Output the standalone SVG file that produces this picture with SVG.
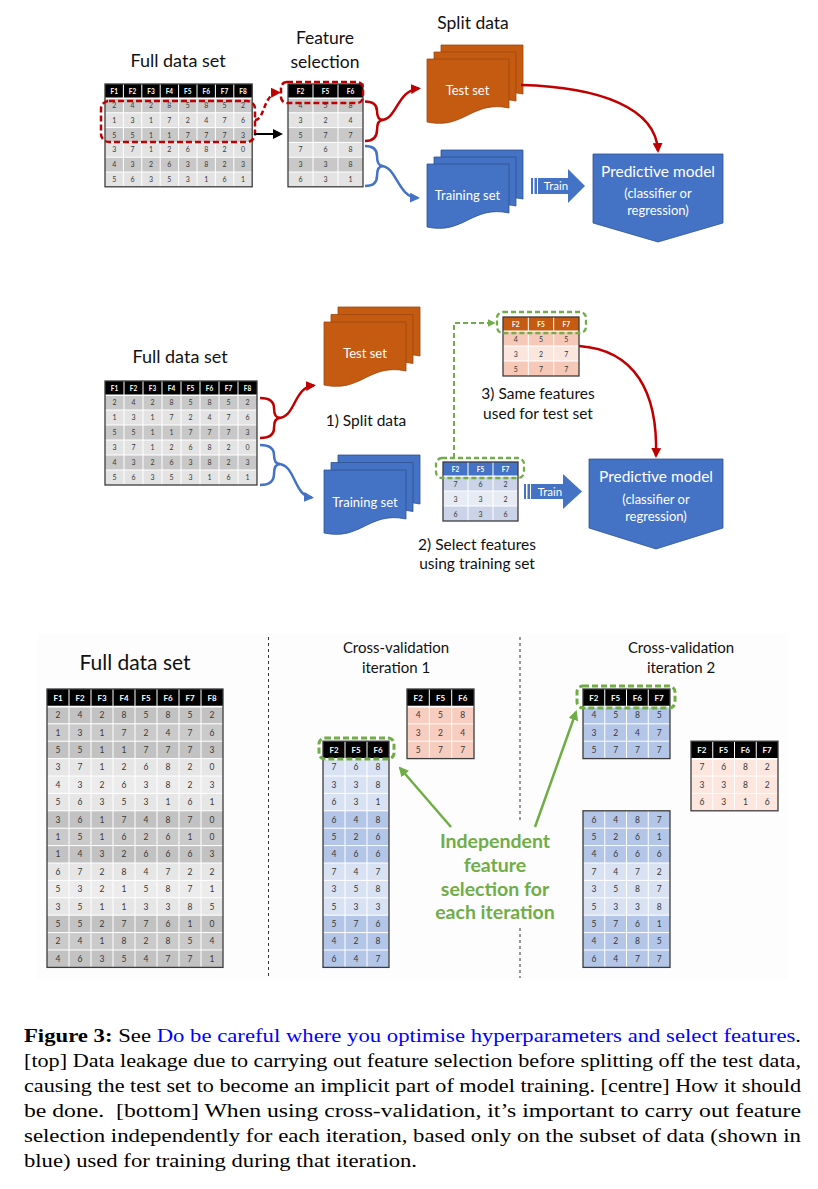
<svg xmlns="http://www.w3.org/2000/svg" width="818" height="1189" viewBox="0 0 818 1189">
<style>
.lbl{font-family:Lato,"Open Sans",sans-serif;fill:#111;text-anchor:middle}
.wt{font-family:Lato,"Open Sans",sans-serif;fill:#fff;text-anchor:middle}
.h7{font-family:Lato,"Open Sans",sans-serif;font-weight:700;font-size:6.5px;fill:#fff;text-anchor:middle}
.n7{font-family:Lato,"Open Sans",sans-serif;font-size:7px;fill:#383838;text-anchor:middle}
.h8{font-family:Lato,"Open Sans",sans-serif;font-weight:700;font-size:8px;fill:#fff;text-anchor:middle}
.n8{font-family:Lato,"Open Sans",sans-serif;font-size:8.5px;fill:#383838;text-anchor:middle}
.gl{stroke:#fff;stroke-width:1;fill:none}
.bd{fill:none;stroke:#3c3c3c;stroke-width:1.3}
.org{fill:#C55A11;stroke:#9E4610;stroke-width:0.8}
.blu{fill:#4472C4;stroke:#2F528F;stroke-width:0.8}
.cap{font-family:"Liberation Serif",serif;font-size:19.5px;fill:#000}
.rd{fill:none;stroke:#C00000;stroke-width:2.5}
.bl{fill:none;stroke:#4472C4;stroke-width:2.5}
.gr{fill:none;stroke:#70AD47;stroke-width:2.5}
.gt{font-family:Lato,"Open Sans",sans-serif;font-weight:700;font-size:19.5px;fill:#70AD47;text-anchor:middle}
</style>
<defs>
<path id="doc" d="M0,0H82V49C45,41 37,71 0,63Z"/>
<marker id="aR" viewBox="0 0 10 10" refX="8" refY="5" markerWidth="4" markerHeight="4" orient="auto"><path d="M0,0L10,5L0,10Z" fill="#C00000"/></marker>
<marker id="aB" viewBox="0 0 10 10" refX="8" refY="5" markerWidth="4" markerHeight="4" orient="auto"><path d="M0,0L10,5L0,10Z" fill="#4472C4"/></marker>
<marker id="aG" viewBox="0 0 10 10" refX="8" refY="5" markerWidth="4" markerHeight="4" orient="auto"><path d="M0,0L10,5L0,10Z" fill="#70AD47"/></marker>
<marker id="aK" viewBox="0 0 10 10" refX="8" refY="5" markerWidth="5" markerHeight="5" orient="auto"><path d="M0,0L10,5L0,10Z" fill="#000"/></marker>
</defs>
<rect width="818" height="1189" fill="#fff"/>

<!-- ================= TOP PANEL ================= -->
<g id="top-labels">
<text class="lbl" x="178" y="67" font-size="18">Full data set</text>
<text class="lbl" x="325" y="44" font-size="17.5">Feature</text>
<text class="lbl" x="325" y="67.5" font-size="17.5">selection</text>
<text class="lbl" x="473" y="29" font-size="17.5">Split data</text>
</g>

<g id="top-full-table">
<rect x="105" y="84" width="147.2" height="14" fill="#000"/>
<rect x="105" y="98" width="147.2" height="14.8" fill="#c8c8c8"/>
<rect x="105" y="112.8" width="147.2" height="14.8" fill="#e3e3e3"/>
<rect x="105" y="127.6" width="147.2" height="14.8" fill="#c8c8c8"/>
<rect x="105" y="142.4" width="147.2" height="14.8" fill="#e3e3e3"/>
<rect x="105" y="157.2" width="147.2" height="14.8" fill="#c8c8c8"/>
<rect x="105" y="172" width="147.2" height="14.8" fill="#e3e3e3"/>
<path class="gl" d="M123.4,84V186.8M141.8,84V186.8M160.2,84V186.8M178.6,84V186.8M197,84V186.8M215.4,84V186.8M233.8,84V186.8M105,112.8H252.2M105,127.6H252.2M105,142.4H252.2M105,157.2H252.2M105,172H252.2"/>
<path d="M105,98.2H252.2" stroke="#fff" stroke-width="1.5"/>
<rect class="bd" x="105" y="84" width="147.2" height="102.8"/>
<text class="h7" x="114.2" y="93.5">F1</text><text class="h7" x="132.6" y="93.5">F2</text><text class="h7" x="151" y="93.5">F3</text><text class="h7" x="169.4" y="93.5">F4</text><text class="h7" x="187.8" y="93.5">F5</text><text class="h7" x="206.2" y="93.5">F6</text><text class="h7" x="224.6" y="93.5">F7</text><text class="h7" x="243" y="93.5">F8</text>
<text class="n7" x="114.2" y="108">2</text><text class="n7" x="132.6" y="108">4</text><text class="n7" x="151" y="108">2</text><text class="n7" x="169.4" y="108">8</text><text class="n7" x="187.8" y="108">5</text><text class="n7" x="206.2" y="108">8</text><text class="n7" x="224.6" y="108">5</text><text class="n7" x="243" y="108">2</text>
<text class="n7" x="114.2" y="122.8">1</text><text class="n7" x="132.6" y="122.8">3</text><text class="n7" x="151" y="122.8">1</text><text class="n7" x="169.4" y="122.8">7</text><text class="n7" x="187.8" y="122.8">2</text><text class="n7" x="206.2" y="122.8">4</text><text class="n7" x="224.6" y="122.8">7</text><text class="n7" x="243" y="122.8">6</text>
<text class="n7" x="114.2" y="137.6">5</text><text class="n7" x="132.6" y="137.6">5</text><text class="n7" x="151" y="137.6">1</text><text class="n7" x="169.4" y="137.6">1</text><text class="n7" x="187.8" y="137.6">7</text><text class="n7" x="206.2" y="137.6">7</text><text class="n7" x="224.6" y="137.6">7</text><text class="n7" x="243" y="137.6">3</text>
<text class="n7" x="114.2" y="152.4">3</text><text class="n7" x="132.6" y="152.4">7</text><text class="n7" x="151" y="152.4">1</text><text class="n7" x="169.4" y="152.4">2</text><text class="n7" x="187.8" y="152.4">6</text><text class="n7" x="206.2" y="152.4">8</text><text class="n7" x="224.6" y="152.4">2</text><text class="n7" x="243" y="152.4">0</text>
<text class="n7" x="114.2" y="167.2">4</text><text class="n7" x="132.6" y="167.2">3</text><text class="n7" x="151" y="167.2">2</text><text class="n7" x="169.4" y="167.2">6</text><text class="n7" x="187.8" y="167.2">3</text><text class="n7" x="206.2" y="167.2">8</text><text class="n7" x="224.6" y="167.2">2</text><text class="n7" x="243" y="167.2">3</text>
<text class="n7" x="114.2" y="182">5</text><text class="n7" x="132.6" y="182">6</text><text class="n7" x="151" y="182">3</text><text class="n7" x="169.4" y="182">5</text><text class="n7" x="187.8" y="182">3</text><text class="n7" x="206.2" y="182">1</text><text class="n7" x="224.6" y="182">6</text><text class="n7" x="243" y="182">1</text>
</g>

<g id="top-feature-table">
<rect x="288" y="84" width="75" height="14" fill="#000"/>
<rect x="288" y="98" width="75" height="14.8" fill="#c8c8c8"/>
<rect x="288" y="112.8" width="75" height="14.8" fill="#e3e3e3"/>
<rect x="288" y="127.6" width="75" height="14.8" fill="#c8c8c8"/>
<rect x="288" y="142.4" width="75" height="14.8" fill="#e3e3e3"/>
<rect x="288" y="157.2" width="75" height="14.8" fill="#c8c8c8"/>
<rect x="288" y="172" width="75" height="14.8" fill="#e3e3e3"/>
<path class="gl" d="M313,84V186.8M338,84V186.8M288,112.8H363M288,127.6H363M288,142.4H363M288,157.2H363M288,172H363"/>
<path d="M288,98.2H363" stroke="#fff" stroke-width="1.5"/>
<rect class="bd" x="288" y="84" width="75" height="102.8"/>
<text class="h7" x="300.5" y="93.5">F2</text><text class="h7" x="325.5" y="93.5">F5</text><text class="h7" x="350.5" y="93.5">F6</text>
<text class="n7" x="300.5" y="108">4</text><text class="n7" x="325.5" y="108">5</text><text class="n7" x="350.5" y="108">8</text>
<text class="n7" x="300.5" y="122.8">3</text><text class="n7" x="325.5" y="122.8">2</text><text class="n7" x="350.5" y="122.8">4</text>
<text class="n7" x="300.5" y="137.6">5</text><text class="n7" x="325.5" y="137.6">7</text><text class="n7" x="350.5" y="137.6">7</text>
<text class="n7" x="300.5" y="152.4">7</text><text class="n7" x="325.5" y="152.4">6</text><text class="n7" x="350.5" y="152.4">8</text>
<text class="n7" x="300.5" y="167.2">3</text><text class="n7" x="325.5" y="167.2">3</text><text class="n7" x="350.5" y="167.2">8</text>
<text class="n7" x="300.5" y="182">6</text><text class="n7" x="325.5" y="182">3</text><text class="n7" x="350.5" y="182">1</text>
</g>

<g id="top-test-set">
<use href="#doc" x="441" y="45" class="org"/>
<use href="#doc" x="434" y="52" class="org"/>
<use href="#doc" x="427" y="59" class="org"/>
<text class="wt" x="467.5" y="95" font-size="13">Test set</text>
</g>

<g id="top-training-set">
<use href="#doc" x="441" y="150" class="blu"/>
<use href="#doc" x="434" y="157" class="blu"/>
<use href="#doc" x="427" y="164" class="blu"/>
<text class="wt" x="467.5" y="200" font-size="13">Training set</text>
</g>

<g id="top-train-arrow">
<path d="M538,178H568V169L585,186L568,203V194H538Z" fill="#4472C4"/>
<rect x="531" y="178" width="2" height="16" fill="#4472C4"/>
<rect x="534.5" y="178" width="2.5" height="16" fill="#4472C4"/>
<text class="wt" x="556" y="190" font-size="11.5">Train</text>
</g>

<g id="top-predictive-model">
<path d="M593,154H723V223L658,242L593,223Z" class="blu"/>
<text class="wt" x="658" y="177" font-size="15.5">Predictive model</text>
<text class="wt" x="658" y="198" font-size="13">(classifier or</text>
<text class="wt" x="658" y="215" font-size="13">regression)</text>
</g>

<g id="top-highlights">
<rect x="101" y="101" width="154" height="41" rx="8" fill="none" stroke="#C00000" stroke-width="2.5" stroke-dasharray="6 3"/>
<rect x="281" y="82" width="82" height="21" rx="6" fill="none" stroke="#C00000" stroke-width="2.5" stroke-dasharray="6 3"/>
</g>

<g id="top-connectors">
<path d="M255,120C265,120 263,93 279,92.5" class="rd" stroke-dasharray="5 3" marker-end="url(#aR)"/>
<path d="M254,134H281" stroke="#000" stroke-width="2" marker-end="url(#aK)"/>
<path d="M365,101.5Q377,101.5 377,111Q377,120 383,120Q377,120 377,130Q377,141 365,141" class="rd"/>
<path d="M381,120C397,120 397,90 419,88.5" class="rd" marker-end="url(#aR)"/>
<path d="M365,146Q377,146 377,156Q377,166 383,166Q377,166 377,176Q377,186 365,186" class="bl"/>
<path d="M381,166C397,166 397,197 418,198" class="bl" marker-end="url(#aB)"/>
<path d="M521,85C600,87 656,108 658,151" class="rd" marker-end="url(#aR)"/>
</g>

<!-- ================= MIDDLE PANEL ================= -->
<g id="mid-labels">
<text class="lbl" x="180" y="363" font-size="18">Full data set</text>
<text class="lbl" x="366" y="426" font-size="15.5">1) Split data</text>
<text class="lbl" x="538" y="399" font-size="15.5">3) Same features</text>
<text class="lbl" x="538" y="419" font-size="15.5">used for test set</text>
<text class="lbl" x="477" y="550" font-size="15.5">2) Select features</text>
<text class="lbl" x="477" y="569" font-size="15.5">using training set</text>
</g>

<g id="mid-full-table">
<rect x="105" y="381" width="152" height="14" fill="#000"/>
<rect x="105" y="395" width="152" height="15" fill="#c8c8c8"/>
<rect x="105" y="410" width="152" height="15" fill="#e3e3e3"/>
<rect x="105" y="425" width="152" height="15" fill="#c8c8c8"/>
<rect x="105" y="440" width="152" height="15" fill="#e3e3e3"/>
<rect x="105" y="455" width="152" height="15" fill="#c8c8c8"/>
<rect x="105" y="470" width="152" height="15" fill="#e3e3e3"/>
<path class="gl" d="M124,381V485M143,381V485M162,381V485M181,381V485M200,381V485M219,381V485M238,381V485M105,410H257M105,425H257M105,440H257M105,455H257M105,470H257"/>
<path d="M105,395.2H257" stroke="#fff" stroke-width="1.5"/>
<rect class="bd" x="105" y="381" width="152" height="104"/>
<text class="h7" x="114.5" y="390.5">F1</text><text class="h7" x="133.5" y="390.5">F2</text><text class="h7" x="152.5" y="390.5">F3</text><text class="h7" x="171.5" y="390.5">F4</text><text class="h7" x="190.5" y="390.5">F5</text><text class="h7" x="209.5" y="390.5">F6</text><text class="h7" x="228.5" y="390.5">F7</text><text class="h7" x="247.5" y="390.5">F8</text>
<text class="n7" x="114.5" y="405.3">2</text><text class="n7" x="133.5" y="405.3">4</text><text class="n7" x="152.5" y="405.3">2</text><text class="n7" x="171.5" y="405.3">8</text><text class="n7" x="190.5" y="405.3">5</text><text class="n7" x="209.5" y="405.3">8</text><text class="n7" x="228.5" y="405.3">5</text><text class="n7" x="247.5" y="405.3">2</text>
<text class="n7" x="114.5" y="420.3">1</text><text class="n7" x="133.5" y="420.3">3</text><text class="n7" x="152.5" y="420.3">1</text><text class="n7" x="171.5" y="420.3">7</text><text class="n7" x="190.5" y="420.3">2</text><text class="n7" x="209.5" y="420.3">4</text><text class="n7" x="228.5" y="420.3">7</text><text class="n7" x="247.5" y="420.3">6</text>
<text class="n7" x="114.5" y="435.3">5</text><text class="n7" x="133.5" y="435.3">5</text><text class="n7" x="152.5" y="435.3">1</text><text class="n7" x="171.5" y="435.3">1</text><text class="n7" x="190.5" y="435.3">7</text><text class="n7" x="209.5" y="435.3">7</text><text class="n7" x="228.5" y="435.3">7</text><text class="n7" x="247.5" y="435.3">3</text>
<text class="n7" x="114.5" y="450.3">3</text><text class="n7" x="133.5" y="450.3">7</text><text class="n7" x="152.5" y="450.3">1</text><text class="n7" x="171.5" y="450.3">2</text><text class="n7" x="190.5" y="450.3">6</text><text class="n7" x="209.5" y="450.3">8</text><text class="n7" x="228.5" y="450.3">2</text><text class="n7" x="247.5" y="450.3">0</text>
<text class="n7" x="114.5" y="465.3">4</text><text class="n7" x="133.5" y="465.3">3</text><text class="n7" x="152.5" y="465.3">2</text><text class="n7" x="171.5" y="465.3">6</text><text class="n7" x="190.5" y="465.3">3</text><text class="n7" x="209.5" y="465.3">8</text><text class="n7" x="228.5" y="465.3">2</text><text class="n7" x="247.5" y="465.3">3</text>
<text class="n7" x="114.5" y="480.3">5</text><text class="n7" x="133.5" y="480.3">6</text><text class="n7" x="152.5" y="480.3">3</text><text class="n7" x="171.5" y="480.3">5</text><text class="n7" x="190.5" y="480.3">3</text><text class="n7" x="209.5" y="480.3">1</text><text class="n7" x="228.5" y="480.3">6</text><text class="n7" x="247.5" y="480.3">1</text>
</g>

<g id="mid-test-set">
<use href="#doc" x="338" y="307" class="org"/>
<use href="#doc" x="331" y="314.5" class="org"/>
<use href="#doc" x="324" y="322" class="org"/>
<text class="wt" x="365" y="358" font-size="13">Test set</text>
</g>

<g id="mid-training-set">
<use href="#doc" x="338" y="455" class="blu"/>
<use href="#doc" x="331" y="462.5" class="blu"/>
<use href="#doc" x="324" y="470" class="blu"/>
<text class="wt" x="365" y="507" font-size="13">Training set</text>
</g>

<g id="mid-test-features">
<rect x="503" y="317" width="76" height="14" fill="#C55A11"/>
<rect x="503" y="331" width="76" height="15" fill="#f5c8b8"/>
<rect x="503" y="346" width="76" height="15" fill="#fbe6de"/>
<rect x="503" y="361" width="76" height="15" fill="#f5c8b8"/>
<path class="gl" d="M528.3,317V376M553.7,317V376M503,346H579M503,361H579"/>
<path d="M503,331.2H579" stroke="#fff" stroke-width="1.5"/>
<rect class="bd" x="503" y="317" width="76" height="59"/>
<text class="h7" x="515.7" y="326.5">F2</text><text class="h7" x="541" y="326.5">F5</text><text class="h7" x="566.3" y="326.5">F7</text>
<text class="n7" x="515.7" y="341.5">4</text><text class="n7" x="541" y="341.5">5</text><text class="n7" x="566.3" y="341.5">5</text>
<text class="n7" x="515.7" y="356.5">3</text><text class="n7" x="541" y="356.5">2</text><text class="n7" x="566.3" y="356.5">7</text>
<text class="n7" x="515.7" y="371.5">5</text><text class="n7" x="541" y="371.5">7</text><text class="n7" x="566.3" y="371.5">7</text>
</g>

<g id="mid-train-features">
<rect x="443" y="462" width="75" height="14" fill="#4472C4"/>
<rect x="443" y="476" width="75" height="15" fill="#cad3e8"/>
<rect x="443" y="491" width="75" height="15" fill="#e7ebf4"/>
<rect x="443" y="506" width="75" height="15" fill="#cad3e8"/>
<path class="gl" d="M468,462V521M493,462V521M443,491H518M443,506H518"/>
<path d="M443,476.2H518" stroke="#fff" stroke-width="1.5"/>
<rect class="bd" x="443" y="462" width="75" height="59"/>
<text class="h7" x="455.5" y="471.5">F2</text><text class="h7" x="480.5" y="471.5">F5</text><text class="h7" x="505.5" y="471.5">F7</text>
<text class="n7" x="455.5" y="486.5">7</text><text class="n7" x="480.5" y="486.5">6</text><text class="n7" x="505.5" y="486.5">2</text>
<text class="n7" x="455.5" y="501.5">3</text><text class="n7" x="480.5" y="501.5">3</text><text class="n7" x="505.5" y="501.5">2</text>
<text class="n7" x="455.5" y="516.5">6</text><text class="n7" x="480.5" y="516.5">3</text><text class="n7" x="505.5" y="516.5">6</text>
</g>

<g id="mid-train-arrow">
<path d="M531,484H563V474L582,491.5L563,509V499H531Z" fill="#4472C4"/>
<rect x="524" y="484" width="2" height="15" fill="#4472C4"/>
<rect x="527.5" y="484" width="2.5" height="15" fill="#4472C4"/>
<text class="wt" x="550" y="496" font-size="11.5">Train</text>
</g>

<g id="mid-predictive-model">
<path d="M589,459H723V528L656,549L589,528Z" class="blu"/>
<text class="wt" x="656" y="482" font-size="15.5">Predictive model</text>
<text class="wt" x="656" y="504" font-size="13">(classifier or</text>
<text class="wt" x="656" y="521" font-size="13">regression)</text>
</g>

<g id="mid-highlights">
<rect x="436" y="458" width="88" height="20" rx="6" fill="none" stroke="#70AD47" stroke-width="2.3" stroke-dasharray="5 3"/>
<rect x="497" y="312" width="89" height="21" rx="6" fill="none" stroke="#70AD47" stroke-width="2.3" stroke-dasharray="5 3"/>
</g>

<g id="mid-connectors">
<path d="M260,398Q274,398 274,408Q274,418 280,418Q274,418 274,428Q274,438 260,438" class="rd"/>
<path d="M278,418C296,418 293,387 314,385.5" class="rd" marker-end="url(#aR)"/>
<path d="M260,445Q274,445 274,455Q274,464 280,464Q274,464 274,474Q274,485 260,485" class="bl"/>
<path d="M278,464C296,464 293,496 312,497.5" class="bl" marker-end="url(#aB)"/>
<path d="M454,458V323H494" fill="none" stroke="#70AD47" stroke-width="2" stroke-dasharray="5 3" marker-end="url(#aG)"/>
<path d="M579,346C635,350 658,392 656,456" class="rd" marker-end="url(#aR)"/>
</g>

<!-- ================= BOTTOM PANEL ================= -->
<rect x="37" y="634" width="751" height="346" fill="#fdfdfd"/>
<g id="dividers">
<path d="M268.5,637V978M520,637V822M520,928V978" stroke="#333" stroke-width="1" stroke-dasharray="3 3"/>
</g>
<g id="bottom-labels">
<text class="lbl" x="135" y="670" font-size="21">Full data set</text>
<text class="lbl" x="396" y="653" font-size="15">Cross-validation</text>
<text class="lbl" x="396" y="673" font-size="15">iteration 1</text>
<text class="lbl" x="681" y="653" font-size="15">Cross-validation</text>
<text class="lbl" x="681" y="673" font-size="15">iteration 2</text>
</g>

<g id="bottom-full-table">
<rect x="47" y="689" width="176" height="17.4" fill="#000"/>
<rect x="47" y="706.4" width="176" height="17.4" fill="#c2c2c2"/>
<rect x="47" y="723.8" width="176" height="17.4" fill="#cacaca"/>
<rect x="47" y="741.2" width="176" height="17.4" fill="#c2c2c2"/>
<rect x="47" y="758.6" width="176" height="17.4" fill="#e6e6e6"/>
<rect x="47" y="776" width="176" height="17.4" fill="#ececec"/>
<rect x="47" y="793.4" width="176" height="17.4" fill="#e6e6e6"/>
<rect x="47" y="810.8" width="176" height="17.4" fill="#c2c2c2"/>
<rect x="47" y="828.2" width="176" height="17.4" fill="#cacaca"/>
<rect x="47" y="845.6" width="176" height="17.4" fill="#c2c2c2"/>
<rect x="47" y="863" width="176" height="17.4" fill="#e6e6e6"/>
<rect x="47" y="880.4" width="176" height="17.4" fill="#ececec"/>
<rect x="47" y="897.8" width="176" height="17.4" fill="#e6e6e6"/>
<rect x="47" y="915.2" width="176" height="17.4" fill="#c2c2c2"/>
<rect x="47" y="932.6" width="176" height="17.4" fill="#cacaca"/>
<rect x="47" y="950" width="176" height="17.4" fill="#c2c2c2"/>
<path class="gl" d="M69,689V967.4M91,689V967.4M113,689V967.4M135,689V967.4M157,689V967.4M179,689V967.4M201,689V967.4M47,723.8H223M47,741.2H223M47,758.6H223M47,776H223M47,793.4H223M47,810.8H223M47,828.2H223M47,845.6H223M47,863H223M47,880.4H223M47,897.8H223M47,915.2H223M47,932.6H223M47,950H223"/>
<path d="M47,706.6H223" stroke="#fff" stroke-width="1.8"/>
<rect class="bd" x="47" y="689" width="176" height="278.4"/>
<text class="h8" x="58" y="700.7">F1</text><text class="h8" x="80" y="700.7">F2</text><text class="h8" x="102" y="700.7">F3</text><text class="h8" x="124" y="700.7">F4</text><text class="h8" x="146" y="700.7">F5</text><text class="h8" x="168" y="700.7">F6</text><text class="h8" x="190" y="700.7">F7</text><text class="h8" x="212" y="700.7">F8</text>
<text class="n8" x="58" y="718.1">2</text><text class="n8" x="80" y="718.1">4</text><text class="n8" x="102" y="718.1">2</text><text class="n8" x="124" y="718.1">8</text><text class="n8" x="146" y="718.1">5</text><text class="n8" x="168" y="718.1">8</text><text class="n8" x="190" y="718.1">5</text><text class="n8" x="212" y="718.1">2</text>
<text class="n8" x="58" y="735.5">1</text><text class="n8" x="80" y="735.5">3</text><text class="n8" x="102" y="735.5">1</text><text class="n8" x="124" y="735.5">7</text><text class="n8" x="146" y="735.5">2</text><text class="n8" x="168" y="735.5">4</text><text class="n8" x="190" y="735.5">7</text><text class="n8" x="212" y="735.5">6</text>
<text class="n8" x="58" y="752.9">5</text><text class="n8" x="80" y="752.9">5</text><text class="n8" x="102" y="752.9">1</text><text class="n8" x="124" y="752.9">1</text><text class="n8" x="146" y="752.9">7</text><text class="n8" x="168" y="752.9">7</text><text class="n8" x="190" y="752.9">7</text><text class="n8" x="212" y="752.9">3</text>
<text class="n8" x="58" y="770.3">3</text><text class="n8" x="80" y="770.3">7</text><text class="n8" x="102" y="770.3">1</text><text class="n8" x="124" y="770.3">2</text><text class="n8" x="146" y="770.3">6</text><text class="n8" x="168" y="770.3">8</text><text class="n8" x="190" y="770.3">2</text><text class="n8" x="212" y="770.3">0</text>
<text class="n8" x="58" y="787.7">4</text><text class="n8" x="80" y="787.7">3</text><text class="n8" x="102" y="787.7">2</text><text class="n8" x="124" y="787.7">6</text><text class="n8" x="146" y="787.7">3</text><text class="n8" x="168" y="787.7">8</text><text class="n8" x="190" y="787.7">2</text><text class="n8" x="212" y="787.7">3</text>
<text class="n8" x="58" y="805.1">5</text><text class="n8" x="80" y="805.1">6</text><text class="n8" x="102" y="805.1">3</text><text class="n8" x="124" y="805.1">5</text><text class="n8" x="146" y="805.1">3</text><text class="n8" x="168" y="805.1">1</text><text class="n8" x="190" y="805.1">6</text><text class="n8" x="212" y="805.1">1</text>
<text class="n8" x="58" y="822.5">3</text><text class="n8" x="80" y="822.5">6</text><text class="n8" x="102" y="822.5">1</text><text class="n8" x="124" y="822.5">7</text><text class="n8" x="146" y="822.5">4</text><text class="n8" x="168" y="822.5">8</text><text class="n8" x="190" y="822.5">7</text><text class="n8" x="212" y="822.5">0</text>
<text class="n8" x="58" y="839.9">1</text><text class="n8" x="80" y="839.9">5</text><text class="n8" x="102" y="839.9">1</text><text class="n8" x="124" y="839.9">6</text><text class="n8" x="146" y="839.9">2</text><text class="n8" x="168" y="839.9">6</text><text class="n8" x="190" y="839.9">1</text><text class="n8" x="212" y="839.9">0</text>
<text class="n8" x="58" y="857.3">1</text><text class="n8" x="80" y="857.3">4</text><text class="n8" x="102" y="857.3">3</text><text class="n8" x="124" y="857.3">2</text><text class="n8" x="146" y="857.3">6</text><text class="n8" x="168" y="857.3">6</text><text class="n8" x="190" y="857.3">6</text><text class="n8" x="212" y="857.3">3</text>
<text class="n8" x="58" y="874.7">6</text><text class="n8" x="80" y="874.7">7</text><text class="n8" x="102" y="874.7">2</text><text class="n8" x="124" y="874.7">8</text><text class="n8" x="146" y="874.7">4</text><text class="n8" x="168" y="874.7">7</text><text class="n8" x="190" y="874.7">2</text><text class="n8" x="212" y="874.7">2</text>
<text class="n8" x="58" y="892.1">5</text><text class="n8" x="80" y="892.1">3</text><text class="n8" x="102" y="892.1">2</text><text class="n8" x="124" y="892.1">1</text><text class="n8" x="146" y="892.1">5</text><text class="n8" x="168" y="892.1">8</text><text class="n8" x="190" y="892.1">7</text><text class="n8" x="212" y="892.1">1</text>
<text class="n8" x="58" y="909.5">3</text><text class="n8" x="80" y="909.5">5</text><text class="n8" x="102" y="909.5">1</text><text class="n8" x="124" y="909.5">1</text><text class="n8" x="146" y="909.5">3</text><text class="n8" x="168" y="909.5">3</text><text class="n8" x="190" y="909.5">8</text><text class="n8" x="212" y="909.5">5</text>
<text class="n8" x="58" y="926.9">5</text><text class="n8" x="80" y="926.9">5</text><text class="n8" x="102" y="926.9">2</text><text class="n8" x="124" y="926.9">7</text><text class="n8" x="146" y="926.9">7</text><text class="n8" x="168" y="926.9">6</text><text class="n8" x="190" y="926.9">1</text><text class="n8" x="212" y="926.9">0</text>
<text class="n8" x="58" y="944.3">2</text><text class="n8" x="80" y="944.3">4</text><text class="n8" x="102" y="944.3">1</text><text class="n8" x="124" y="944.3">8</text><text class="n8" x="146" y="944.3">2</text><text class="n8" x="168" y="944.3">8</text><text class="n8" x="190" y="944.3">5</text><text class="n8" x="212" y="944.3">4</text>
<text class="n8" x="58" y="961.7">4</text><text class="n8" x="80" y="961.7">6</text><text class="n8" x="102" y="961.7">3</text><text class="n8" x="124" y="961.7">5</text><text class="n8" x="146" y="961.7">4</text><text class="n8" x="168" y="961.7">7</text><text class="n8" x="190" y="961.7">7</text><text class="n8" x="212" y="961.7">1</text>
</g>

<g id="iter1-test-table">
<rect x="407" y="689" width="67" height="17.4" fill="#000"/>
<rect x="407" y="706.4" width="67" height="52.2" fill="#f7cdbf"/>
<path class="gl" d="M429.3,689V758.6M451.7,689V758.6M407,723.8H474M407,741.2H474"/>
<path d="M407,706.6H474" stroke="#fff" stroke-width="1.8"/>
<rect class="bd" x="407" y="689" width="67" height="69.6"/>
<text class="h8" x="418.2" y="700.7">F2</text><text class="h8" x="440.5" y="700.7">F5</text><text class="h8" x="462.8" y="700.7">F6</text>
<text class="n8" x="418.2" y="718.1">4</text><text class="n8" x="440.5" y="718.1">5</text><text class="n8" x="462.8" y="718.1">8</text>
<text class="n8" x="418.2" y="735.5">3</text><text class="n8" x="440.5" y="735.5">2</text><text class="n8" x="462.8" y="735.5">4</text>
<text class="n8" x="418.2" y="752.9">5</text><text class="n8" x="440.5" y="752.9">7</text><text class="n8" x="462.8" y="752.9">7</text>
</g>

<g id="iter1-train-table">
<rect x="323" y="741.2" width="66" height="17.4" fill="#000"/>
<rect x="323" y="758.6" width="66" height="52.2" fill="#d9e2f3"/>
<rect x="323" y="810.8" width="66" height="52.2" fill="#b4c6e7"/>
<rect x="323" y="863" width="66" height="52.2" fill="#d9e2f3"/>
<rect x="323" y="915.2" width="66" height="52.2" fill="#b4c6e7"/>
<path class="gl" d="M345,741.2V967.4M367,741.2V967.4M323,776H389M323,793.4H389M323,810.8H389M323,828.2H389M323,845.6H389M323,863H389M323,880.4H389M323,897.8H389M323,915.2H389M323,932.6H389M323,950H389"/>
<path d="M323,758.8H389" stroke="#fff" stroke-width="1.8"/>
<rect class="bd" x="323" y="741.2" width="66" height="226.2"/>
<text class="h8" x="334" y="752.9">F2</text><text class="h8" x="356" y="752.9">F5</text><text class="h8" x="378" y="752.9">F6</text>
<text class="n8" x="334" y="770.3">7</text><text class="n8" x="356" y="770.3">6</text><text class="n8" x="378" y="770.3">8</text>
<text class="n8" x="334" y="787.7">3</text><text class="n8" x="356" y="787.7">3</text><text class="n8" x="378" y="787.7">8</text>
<text class="n8" x="334" y="805.1">6</text><text class="n8" x="356" y="805.1">3</text><text class="n8" x="378" y="805.1">1</text>
<text class="n8" x="334" y="822.5">6</text><text class="n8" x="356" y="822.5">4</text><text class="n8" x="378" y="822.5">8</text>
<text class="n8" x="334" y="839.9">5</text><text class="n8" x="356" y="839.9">2</text><text class="n8" x="378" y="839.9">6</text>
<text class="n8" x="334" y="857.3">4</text><text class="n8" x="356" y="857.3">6</text><text class="n8" x="378" y="857.3">6</text>
<text class="n8" x="334" y="874.7">7</text><text class="n8" x="356" y="874.7">4</text><text class="n8" x="378" y="874.7">7</text>
<text class="n8" x="334" y="892.1">3</text><text class="n8" x="356" y="892.1">5</text><text class="n8" x="378" y="892.1">8</text>
<text class="n8" x="334" y="909.5">5</text><text class="n8" x="356" y="909.5">3</text><text class="n8" x="378" y="909.5">3</text>
<text class="n8" x="334" y="926.9">5</text><text class="n8" x="356" y="926.9">7</text><text class="n8" x="378" y="926.9">6</text>
<text class="n8" x="334" y="944.3">4</text><text class="n8" x="356" y="944.3">2</text><text class="n8" x="378" y="944.3">8</text>
<text class="n8" x="334" y="961.7">6</text><text class="n8" x="356" y="961.7">4</text><text class="n8" x="378" y="961.7">7</text>
</g>

<g id="iter2-train-top-table">
<rect x="583" y="689" width="87" height="17.4" fill="#000"/>
<rect x="583" y="706.4" width="87" height="52.2" fill="#b4c6e7"/>
<path class="gl" d="M604.75,689V758.6M626.5,689V758.6M648.25,689V758.6M583,723.8H670M583,741.2H670"/>
<path d="M583,706.6H670" stroke="#fff" stroke-width="1.8"/>
<rect class="bd" x="583" y="689" width="87" height="69.6"/>
<text class="h8" x="593.9" y="700.7">F2</text><text class="h8" x="615.6" y="700.7">F5</text><text class="h8" x="637.4" y="700.7">F6</text><text class="h8" x="659.1" y="700.7">F7</text>
<text class="n8" x="593.9" y="718.1">4</text><text class="n8" x="615.6" y="718.1">5</text><text class="n8" x="637.4" y="718.1">8</text><text class="n8" x="659.1" y="718.1">5</text>
<text class="n8" x="593.9" y="735.5">3</text><text class="n8" x="615.6" y="735.5">2</text><text class="n8" x="637.4" y="735.5">4</text><text class="n8" x="659.1" y="735.5">7</text>
<text class="n8" x="593.9" y="752.9">5</text><text class="n8" x="615.6" y="752.9">7</text><text class="n8" x="637.4" y="752.9">7</text><text class="n8" x="659.1" y="752.9">7</text>
</g>

<g id="iter2-test-table">
<rect x="691" y="741.2" width="87" height="17.4" fill="#000"/>
<rect x="691" y="758.6" width="87" height="52.2" fill="#fce6de"/>
<path class="gl" d="M712.75,741.2V810.8M734.5,741.2V810.8M756.25,741.2V810.8M691,776H778M691,793.4H778"/>
<path d="M691,758.8H778" stroke="#fff" stroke-width="1.8"/>
<rect class="bd" x="691" y="741.2" width="87" height="69.6"/>
<text class="h8" x="701.9" y="752.9">F2</text><text class="h8" x="723.6" y="752.9">F5</text><text class="h8" x="745.4" y="752.9">F6</text><text class="h8" x="767.1" y="752.9">F7</text>
<text class="n8" x="701.9" y="770.3">7</text><text class="n8" x="723.6" y="770.3">6</text><text class="n8" x="745.4" y="770.3">8</text><text class="n8" x="767.1" y="770.3">2</text>
<text class="n8" x="701.9" y="787.7">3</text><text class="n8" x="723.6" y="787.7">3</text><text class="n8" x="745.4" y="787.7">8</text><text class="n8" x="767.1" y="787.7">2</text>
<text class="n8" x="701.9" y="805.1">6</text><text class="n8" x="723.6" y="805.1">3</text><text class="n8" x="745.4" y="805.1">1</text><text class="n8" x="767.1" y="805.1">6</text>
</g>

<g id="iter2-train-bottom-table">
<rect x="583" y="810.8" width="87" height="52.2" fill="#b4c6e7"/>
<rect x="583" y="863" width="87" height="52.2" fill="#d9e2f3"/>
<rect x="583" y="915.2" width="87" height="52.2" fill="#b4c6e7"/>
<path class="gl" d="M604.75,810.8V967.4M626.5,810.8V967.4M648.25,810.8V967.4M583,828.2H670M583,845.6H670M583,863H670M583,880.4H670M583,897.8H670M583,915.2H670M583,932.6H670M583,950H670"/>
<rect class="bd" x="583" y="810.8" width="87" height="156.6"/>
<text class="n8" x="593.9" y="822.5">6</text><text class="n8" x="615.6" y="822.5">4</text><text class="n8" x="637.4" y="822.5">8</text><text class="n8" x="659.1" y="822.5">7</text>
<text class="n8" x="593.9" y="839.9">5</text><text class="n8" x="615.6" y="839.9">2</text><text class="n8" x="637.4" y="839.9">6</text><text class="n8" x="659.1" y="839.9">1</text>
<text class="n8" x="593.9" y="857.3">4</text><text class="n8" x="615.6" y="857.3">6</text><text class="n8" x="637.4" y="857.3">6</text><text class="n8" x="659.1" y="857.3">6</text>
<text class="n8" x="593.9" y="874.7">7</text><text class="n8" x="615.6" y="874.7">4</text><text class="n8" x="637.4" y="874.7">7</text><text class="n8" x="659.1" y="874.7">2</text>
<text class="n8" x="593.9" y="892.1">3</text><text class="n8" x="615.6" y="892.1">5</text><text class="n8" x="637.4" y="892.1">8</text><text class="n8" x="659.1" y="892.1">7</text>
<text class="n8" x="593.9" y="909.5">5</text><text class="n8" x="615.6" y="909.5">3</text><text class="n8" x="637.4" y="909.5">3</text><text class="n8" x="659.1" y="909.5">8</text>
<text class="n8" x="593.9" y="926.9">5</text><text class="n8" x="615.6" y="926.9">7</text><text class="n8" x="637.4" y="926.9">6</text><text class="n8" x="659.1" y="926.9">1</text>
<text class="n8" x="593.9" y="944.3">4</text><text class="n8" x="615.6" y="944.3">2</text><text class="n8" x="637.4" y="944.3">8</text><text class="n8" x="659.1" y="944.3">5</text>
<text class="n8" x="593.9" y="961.7">6</text><text class="n8" x="615.6" y="961.7">4</text><text class="n8" x="637.4" y="961.7">7</text><text class="n8" x="659.1" y="961.7">7</text>
</g>

<g id="bottom-highlights">
<rect x="319" y="738" width="75" height="21" rx="6" fill="none" stroke="#70AD47" stroke-width="3" stroke-dasharray="6 3"/>
<rect x="577" y="686" width="98" height="22" rx="6" fill="none" stroke="#70AD47" stroke-width="3" stroke-dasharray="6 3"/>
</g>

<g id="independent-note">
<text class="gt" x="495" y="848">Independent</text>
<text class="gt" x="495" y="872">feature</text>
<text class="gt" x="495" y="896">selection for</text>
<text class="gt" x="495" y="919">each iteration</text>
</g>

<g id="bottom-connectors">
<path d="M451,827L400,768" class="gr" marker-end="url(#aG)"/>
<path d="M535,827L576,712" class="gr" marker-end="url(#aG)"/>
</g>

<!-- ================= CAPTION ================= -->
<g id="caption">
<text class="cap" x="24" y="1042" textLength="777" lengthAdjust="spacingAndGlyphs"><tspan font-weight="bold">Figure 3:</tspan> See <tspan fill="#0000ff">Do be careful where you optimise hyperparameters and select features</tspan>.</text>
<text class="cap" x="24" y="1067" textLength="777" lengthAdjust="spacingAndGlyphs">[top] Data leakage due to carrying out feature selection before splitting off the test data,</text>
<text class="cap" x="24" y="1092" textLength="777" lengthAdjust="spacingAndGlyphs">causing the test set to become an implicit part of model training. [centre] How it should</text>
<text class="cap" x="24" y="1117" textLength="777" lengthAdjust="spacingAndGlyphs">be done.&#160; [bottom] When using cross-validation, it’s important to carry out feature</text>
<text class="cap" x="24" y="1142" textLength="777" lengthAdjust="spacingAndGlyphs">selection independently for each iteration, based only on the subset of data (shown in</text>
<text class="cap" x="24" y="1167" textLength="393" lengthAdjust="spacingAndGlyphs">blue) used for training during that iteration.</text>
</g>
</svg>
